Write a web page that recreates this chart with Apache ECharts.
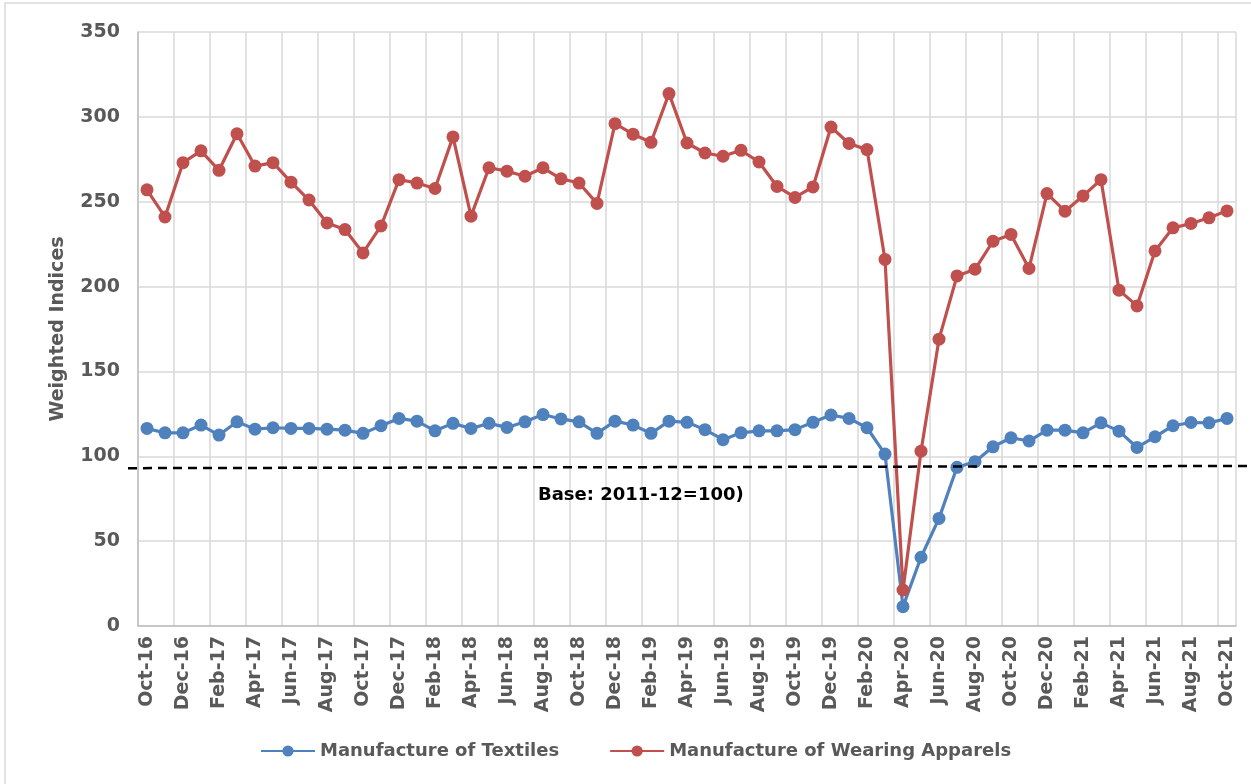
<!DOCTYPE html>
<html>
<head>
<meta charset="utf-8">
<script src="https://cdn.jsdelivr.net/npm/echarts@6/dist/echarts.min.js"></script>
<style>
html,body{margin:0;padding:0;background:#fff;}
#chart{width:1251px;height:784px;}
</style>
</head>
<body>
<div id="chart"></div>
<script>
const months = ["Oct-16","Nov-16","Dec-16","Jan-17","Feb-17","Mar-17","Apr-17","May-17","Jun-17","Jul-17","Aug-17","Sep-17",
"Oct-17","Nov-17","Dec-17","Jan-18","Feb-18","Mar-18","Apr-18","May-18","Jun-18","Jul-18","Aug-18","Sep-18",
"Oct-18","Nov-18","Dec-18","Jan-19","Feb-19","Mar-19","Apr-19","May-19","Jun-19","Jul-19","Aug-19","Sep-19",
"Oct-19","Nov-19","Dec-19","Jan-20","Feb-20","Mar-20","Apr-20","May-20","Jun-20","Jul-20","Aug-20","Sep-20",
"Oct-20","Nov-20","Dec-20","Jan-21","Feb-21","Mar-21","Apr-21","May-21","Jun-21","Jul-21","Aug-21","Sep-21","Oct-21"];

const textiles = [116.4,113.8,113.8,118.4,112.5,120.3,116,116.8,116.4,116.4,116,115.4,
113.5,118,122.3,120.7,115,119.4,116.4,119.4,117,120.3,124.6,122,
120.3,113.5,120.7,118.4,113.5,120.7,120,115.7,109.8,113.8,115,115,
115.7,120,124.3,122.3,116.8,101.3,11.4,40.5,63.4,93.5,96.8,105.6,
110.9,109,115.4,115.4,113.8,119.7,114.8,105.2,111.5,118,119.9,119.7,122.3];

const apparels = [257,241,273,280,268.5,290,271,273,261.5,251,237.5,233.6,
219.8,235.7,263,261,257.8,288.2,241.5,270,268,265,270,263.5,
261,249,296,289.8,285,313.7,284.6,278.7,276.8,280.3,273.4,259,
252.5,258.7,294,284.3,280.7,216,21.2,103,169,206.3,210.2,226.7,
230.7,210.7,254.8,244.4,253.4,263,197.9,188.6,221,234.6,237.2,240.5,244.6];

const yTicks = [0,50,100,150,200,250,300,350];
const baseLine = [93, 94.3];   // dashed reference line (left, right)
const baseLabel = "Base: 2011-12=100)";
const seriesNames = ["Manufacture of Textiles","Manufacture of Wearing Apparels"];

const FONT = "DejaVu Sans";
const GRAY = "#595959";

const chart = echarts.init(document.getElementById('chart'));
chart.setOption({
  animation:false,
  backgroundColor:'#fff',
  grid:{left:138,right:15,top:32,bottom:158,containLabel:false},
  legend:{
    bottom:19,left:255,
    itemWidth:54,itemHeight:14,itemGap:50,
    textStyle:{fontFamily:FONT,fontWeight:'bold',fontSize:18,color:GRAY},
    data:seriesNames
  },
  xAxis:{
    type:'category',data:months,boundaryGap:true,
    axisLine:{lineStyle:{color:'#bfbfbf',width:1.5}},
    axisTick:{show:false},
    axisLabel:{interval:1,rotate:90,fontFamily:FONT,fontWeight:'bold',fontSize:19,color:GRAY,margin:10},
    splitLine:{show:true,interval:1,lineStyle:{color:'#d9d9d9',width:1.5}}
  },
  yAxis:{
    type:'value',min:yTicks[0],max:yTicks[yTicks.length-1],interval:50,
    name:'Weighted Indices',nameLocation:'middle',nameGap:70,
    nameTextStyle:{fontFamily:FONT,fontWeight:'bold',fontSize:19,color:GRAY},
    axisLine:{show:true,lineStyle:{color:'#bfbfbf',width:1.5}},
    axisTick:{show:false},
    axisLabel:{fontFamily:FONT,fontWeight:'bold',fontSize:19,color:GRAY,margin:18},
    splitLine:{lineStyle:{color:'#d9d9d9',width:1.5}}
  },
  series:[
    {name:seriesNames[0],type:'line',data:textiles,symbol:'circle',symbolSize:13,showAllSymbol:true,
     lineStyle:{color:'#4F81BD',width:3.2},itemStyle:{color:'#4F81BD'},z:3},
    {name:seriesNames[1],type:'line',data:apparels,symbol:'circle',symbolSize:13,showAllSymbol:true,
     lineStyle:{color:'#C0504D',width:3.2},itemStyle:{color:'#C0504D'},z:4}
  ]
});

const yL = chart.convertToPixel({yAxisIndex:0}, baseLine[0]);
const yR = chart.convertToPixel({yAxisIndex:0}, baseLine[1]);
chart.setOption({
  graphic:[
    {type:'rect',shape:{x:5,y:3,width:1260,height:800},style:{fill:'none',stroke:'#d9d9d9',lineWidth:1.5},silent:true,z:-1},
    {type:'line',shape:{x1:128,y1:yL,x2:1251,y2:yR},style:{stroke:'#000',lineWidth:2.5,lineDash:[9,6]},z:10},
    {type:'text',left:538,top:486,style:{text:baseLabel,fontFamily:FONT,fontWeight:'bold',fontSize:18,fill:'#000'},z:10}
  ]
});
</script>
</body>
</html>
